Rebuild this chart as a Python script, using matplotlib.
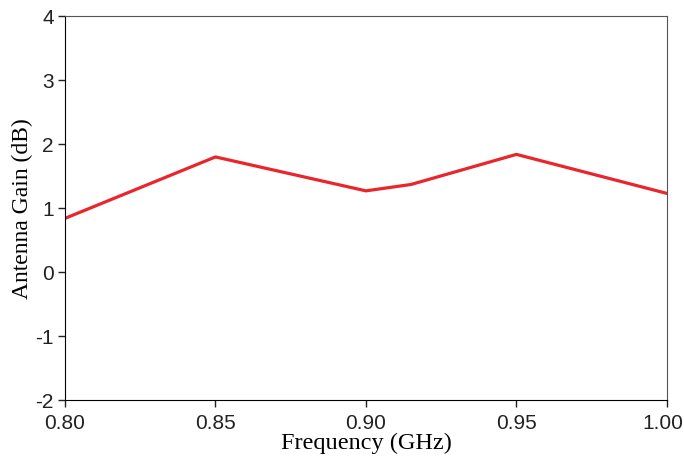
import numpy as np
import matplotlib
matplotlib.use('Agg')
import matplotlib.pyplot as plt
import matplotlib.transforms as mtransforms

plt.rcParams['axes.unicode_minus'] = False
plt.rcParams['xtick.bottom'] = True
plt.rcParams['ytick.left'] = True
plt.rcParams['xtick.direction'] = 'out'
plt.rcParams['ytick.direction'] = 'out'
plt.rcParams['xtick.major.size'] = 5
plt.rcParams['ytick.major.size'] = 5
plt.rcParams['xtick.major.width'] = 1.0
plt.rcParams['ytick.major.width'] = 1.0
plt.rcParams['xtick.color'] = '#222222'
plt.rcParams['ytick.color'] = '#222222'

# frequency points (GHz) and measured gain (dB)
freq = [0.80, 0.85, 0.90, 0.915, 0.95, 1.00]
gain = [0.84, 1.80, 1.27, 1.37, 1.84, 1.23]

x_ticks = [0.80, 0.85, 0.90, 0.95, 1.00]
y_ticks = [-2, -1, 0, 1, 2, 3, 4]

fig = plt.figure(figsize=(6.84, 4.62), dpi=100)
ax = fig.add_axes([0.095, 0.134, 0.88, 0.831])

ax.plot(freq, gain, color='#e8262c', linewidth=2.3)

ax.set_xlim(0.80, 1.00)
ax.set_ylim(-2, 4)
ax.set_xticks(x_ticks)
ax.set_xticklabels(['%.2f' % v for v in x_ticks])
ax.set_yticks(y_ticks)

for lab in ax.get_xticklabels() + ax.get_yticklabels():
	lab.set_fontfamily('Liberation Sans')
	lab.set_fontsize(15)
ax.xaxis.set_tick_params(which='major', size=5, width=1.0, direction='out', pad=5)
ax.yaxis.set_tick_params(which='major', size=5, width=1.0, direction='out', pad=3)

# last x label sits a little left of its tick, as in the original
last = ax.get_xticklabels()[-1]
last.set_transform(last.get_transform() + mtransforms.ScaledTranslation(-4/100, 0, fig.dpi_scale_trans))

ax.set_xlabel('Frequency (GHz)', fontfamily='Liberation Serif', fontsize=17.5, labelpad=0)
ax.set_ylabel('Antenna Gain (dB)', fontfamily='Liberation Serif', fontsize=17, labelpad=2)

for side in ['top', 'right']:
	ax.spines[side].set_color('#555555')
ax.spines['top'].set_linewidth(0.8)
ax.spines['right'].set_linewidth(0.8)

plt.savefig('out.png', dpi=100)
